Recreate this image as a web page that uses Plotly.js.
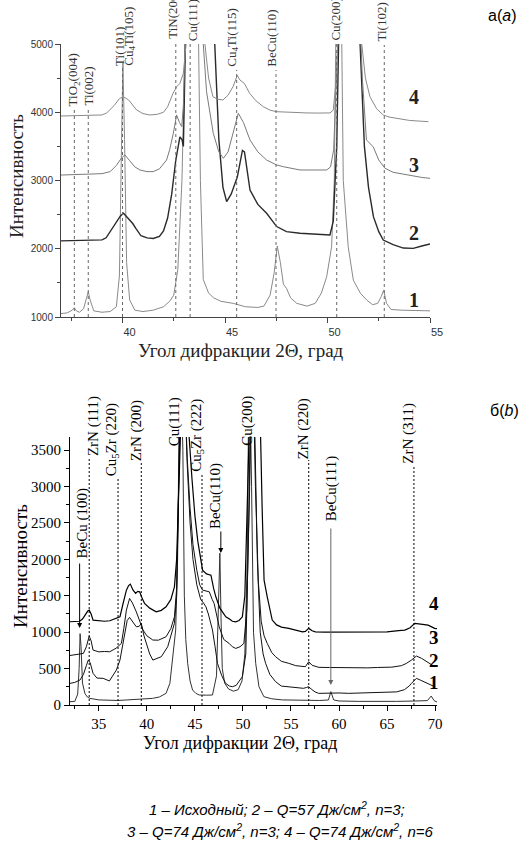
<!DOCTYPE html>
<html><head><meta charset="utf-8">
<script src="https://cdn.plot.ly/plotly-3.0.1.min.js"></script>
<style>html,body{margin:0;padding:0;background:#fff}#c{width:524px;height:843px}</style>
</head><body><div id="c"></div>
<script>
// ---------- Panel a data (2θ, intensity) ----------
const a1x=[37.0,37.3,37.55,37.65,37.75,37.9,38.1,38.25,38.33,38.42,38.6,39.0,39.4,39.7,39.85,39.95,40.02,40.1,40.2,40.35,40.6,41.0,41.5,42.0,42.3,42.5,42.7,42.9,43.05,43.4,43.7,43.8,43.94,44.2,44.45,44.8,45.4,46.0,46.6,46.9,47.2,47.4,47.55,47.7,47.85,48.0,48.2,48.5,49.0,49.4,49.7,49.96,50.2,50.33,50.55,50.77,51.01,51.26,51.6,51.91,52.2,52.45,52.62,52.74,52.88,53.1,53.6,54.2,55.0];
const a1y=[1050,1060,1100,1135,1090,1070,1120,1280,1370,1250,1090,1070,1080,1150,1600,3500,4720,3600,1800,1250,1100,1080,1100,1150,1230,1320,1700,3000,5000,12000,5500,3000,1550,1350,1280,1230,1200,1150,1140,1160,1320,1650,2040,1800,1480,1420,1280,1200,1160,1200,1350,1590,2030,3000,9000,3000,2030,1540,1350,1250,1180,1200,1300,1390,1200,1110,1100,1100,1090];
const a2x=[37.0,37.5,38.0,38.5,39.0,39.2,39.45,39.7,39.9,40.05,40.3,40.5,40.65,40.9,41.2,41.5,41.8,42.0,42.2,42.4,42.6,42.8,42.9,42.97,43.1,43.3,43.8,44.3,44.5,44.7,44.9,45.08,45.3,45.6,45.85,45.95,46.22,46.6,47.03,47.52,48.0,48.66,49.5,50.12,50.28,50.45,50.6,51.0,51.4,51.59,51.8,52.0,52.24,52.5,52.72,53.2,53.7,54.18,54.6,55.0];
const a2y=[2115,2120,2125,2130,2130,2160,2280,2400,2480,2520,2440,2370,2300,2190,2160,2150,2180,2260,2450,2800,3300,3640,3600,3500,5500,9000,12000,8000,5000,3600,2900,2690,2800,3050,3440,3420,2860,2650,2520,2325,2250,2227,2210,2201,2400,3500,6000,10000,8000,5000,3500,2900,2470,2250,2128,2060,2010,2006,2040,2070];
const a3x=[37.0,37.5,38.0,38.5,39.0,39.4,39.7,39.95,40.12,40.35,40.6,40.85,41.2,41.5,41.8,42.15,42.3,42.48,42.58,42.64,42.78,42.89,42.97,43.15,43.5,43.85,43.94,44.1,44.43,44.7,44.92,45.15,45.4,45.55,45.65,45.9,46.22,46.6,47.03,47.5,47.85,48.66,49.3,49.96,50.15,50.3,50.5,51.0,51.5,51.7,51.9,52.23,52.5,52.8,53.2,53.7,54.2,54.6,55.0];
const a3y=[3080,3085,3090,3095,3100,3130,3220,3330,3374,3290,3200,3154,3130,3130,3170,3300,3450,3692,3900,3960,3850,3790,4100,5500,10000,6000,5000,4300,3690,3420,3325,3420,3700,3900,3985,3850,3593,3420,3300,3230,3202,3154,3150,3154,3200,3450,5000,9000,6000,4500,3593,3495,3300,3180,3120,3090,3060,3045,3032];
const a4x=[37.0,37.5,38.0,38.5,39.0,39.23,39.6,39.85,40.04,40.3,40.69,41.0,41.34,41.7,42.0,42.2,42.47,42.66,42.8,42.97,43.1,43.3,43.7,44.02,44.2,44.41,44.65,44.9,45.15,45.4,45.6,45.73,45.95,46.2,46.5,46.87,47.2,47.52,48.0,48.5,49.0,49.5,50.12,50.28,50.4,50.5,50.6,51.0,51.5,51.67,51.85,52.07,52.4,52.72,53.0,53.5,54.0,54.5,54.92];
const a4y=[3945,3950,3950,3955,3960,3990,4100,4200,4228,4180,4033,3980,3960,3970,4000,4080,4280,4380,4423,4570,5000,8000,12000,5000,4500,4228,4190,4180,4250,4380,4540,4472,4420,4278,4170,4081,4030,4008,4000,3995,3990,3988,3990,4030,4400,5000,7000,12000,7000,5000,4500,4228,4050,3960,3930,3900,3880,3870,3862];

// ---------- Panel b data ----------
const b1x=[32.0,32.5,32.8,32.95,33.05,33.15,33.3,33.55,33.8,34.07,35,36,37,37.87,39,40.6,41.3,42.0,42.4,42.7,43.0,43.2,43.45,43.75,43.9,44.05,44.25,44.5,44.76,45.1,45.46,46.2,46.83,47.25,47.45,47.6,47.72,47.85,48.1,48.5,49.0,49.5,49.9,50.2,50.45,50.65,50.9,51.1,51.33,51.67,52.18,53,54.1,55,56,57,58,58.9,59.15,59.45,60,62,64,66,68,69.2,69.6,69.9,70.2];
const b1y=[45,50,150,500,980,800,300,160,110,91,70,65,62,69,75,91,110,160,300,709,1029,2000,5000,3500,1500,900,572,330,206,160,137,135,137,400,1500,2085,1200,500,300,220,190,210,330,700,2000,5000,3000,1000,572,251,114,85,70,66,62,60,62,69,183,69,55,50,48,50,55,60,123,60,40];
const b2x=[32.0,32.5,33.04,33.4,33.7,33.9,34.1,34.4,34.8,35.45,36.1,36.83,37.2,37.45,37.7,37.95,38.2,38.5,38.9,39.2,39.42,39.7,39.94,40.3,40.62,41.0,41.5,42.17,42.5,42.87,43.1,43.3,43.6,43.9,44.2,44.5,44.8,45.2,45.6,45.9,46.15,46.4,46.83,47.1,47.35,47.8,48.2,48.6,48.9,49.3,49.7,49.94,50.3,50.6,50.9,51.2,51.5,51.8,52.1,52.36,52.8,53.4,54.0,54.77,55.5,56.3,56.6,56.85,57.1,57.5,57.88,59,60,61,62,63,64,65,66,66.8,67.3,67.54,68.06,68.5,69.0,69.5,69.96];
const b2y=[297,310,343,420,540,617,580,435,370,366,330,480,617,800,960,1160,1203,1150,1074,1080,1121,950,846,700,617,640,663,800,950,1121,1500,3000,5000,4500,3300,2500,2000,1650,1450,1400,1348,1250,1029,800,572,400,297,260,251,270,340,389,700,2500,5000,4000,2000,1000,700,572,420,320,260,251,240,229,240,251,220,180,160,165,165,160,165,160,165,170,180,210,260,297,366,340,310,285,251];
const b3x=[32.0,32.5,33.0,33.4,33.7,34.0,34.2,34.4,35.0,35.6,36.14,36.8,37.35,37.6,37.87,38.2,38.5,38.9,39.25,39.6,40.0,40.62,41.2,42.0,42.5,42.87,43.1,43.3,43.6,43.9,44.2,44.5,44.8,45.2,45.5,45.8,46.2,46.5,46.8,47.0,47.53,48.0,48.56,48.9,49.25,49.7,50.1,50.4,50.7,51.0,51.3,51.6,51.9,52.2,52.53,53.0,53.4,54.0,54.77,55.5,56.5,56.85,57.2,57.9,59,60,61,62,63,64,65,65.5,66.5,67.0,67.54,68.06,68.6,69.2,69.96];
const b3y=[680,686,700,709,800,946,880,754,730,735,731,780,846,1050,1303,1463,1400,1280,1166,1029,950,892,890,937,1050,1211,1600,3000,5000,4500,3400,2700,2200,1850,1650,1577,1560,1554,1450,1395,1074,900,846,800,777,800,846,1300,3000,5000,3000,1700,1150,950,846,720,663,600,572,540,526,594,545,517,515,512,510,515,510,515,517,520,540,570,617,672,640,590,526];
const b4x=[32.0,32.5,33.0,33.3,33.55,33.85,34.0,34.2,34.4,35.0,35.6,36.14,36.8,37.2,37.5,37.87,38.1,38.28,38.55,38.83,39.05,39.25,39.5,39.76,40.3,40.97,41.5,42.0,42.5,42.87,43.1,43.3,43.8,44.1,44.4,44.7,45.0,45.3,45.6,45.8,46.2,46.5,46.67,46.95,47.18,47.6,48.22,48.6,48.9,49.25,49.6,49.94,50.2,50.5,50.9,51.3,51.6,51.84,52.0,52.2,52.53,52.8,53.05,53.5,54.0,54.77,55.5,56.2,56.5,56.85,57.2,57.54,58.5,60,61.5,63.4,65,66.2,66.85,67.4,67.88,68.5,69.27,69.96,70.2];
const b4y=[1143,1145,1150,1180,1234,1290,1303,1250,1166,1160,1150,1157,1190,1211,1380,1577,1640,1660,1580,1532,1560,1554,1470,1395,1330,1280,1300,1348,1450,1623,2000,3000,5000,4500,3680,3100,2600,2250,2000,1852,1800,1790,1783,1600,1486,1330,1211,1180,1150,1143,1160,1211,1500,3000,5000,5000,4200,3680,2700,1714,1486,1300,1166,1100,1070,1052,1030,1005,1010,1052,1020,1005,1000,1000,995,1005,1005,1020,1029,1060,1121,1110,1097,1052,1050];

// ---------- Reference line positions and labels ----------
const aLinePos=[37.65,38.33,40.0,42.6,43.3,45.57,47.49,50.45,52.77];
const aLabels=['TiO<sub>2</sub>(004)','Ti(002)','Ti(101)','Cu<sub>4</sub>Ti(105)','TiN(200)','Cu(111)','Cu<sub>4</sub>Ti(115)','BeCu(110)','Cu(200)','Ti(102)'];
const aLabelPos=[37.63,38.32,39.85,40.33,42.43,43.45,45.35,47.25,50.37,52.61];
const bLinePos=[34.0,37.0,39.42,45.74,56.85,67.8];
const bLabels=['BeCu (100)','ZrN (111)','Cu<sub>5</sub>Zr (220)','ZrN (200)','Cu(111)','Cu<sub>5</sub>Zr (222)','BeCu(110)','Cu(200)','ZrN (220)','BeCu(111)','ZrN (311)'];
const bLabelPos=[33.2,34.4,36.45,38.95,42.9,45.15,47.1,50.5,56.35,59.2,67.2];
const bArrowPos=[33.0,47.7,59.15];
const curveNames=['1','2','3','4'];

// ---------- layout helpers (pixel geometry) ----------
const W=524,H=843;
const PX=x=>x/W, PY=y=>1-y/H;
const aDom={x:[61,430],y:[317,44]}, bDom={x:[70,437],y:[705,437]};
const aLineTop=[110,110,68,42,44,70,70,44,45];
const aLabelBottom=[107,107,67,67,40,42,68,68,42,43];
const bLineTop=[457,477,462,473,460,465];
const bLabelBottom=[560,457,477,462,447,473,530,447,460,522,465];
const bArrowFrom=[562,530,527], bArrowTip=[628,553,685];
const bArrowColor=['#000','#000','#666'];

const SERIF='"Liberation Serif","Times New Roman",serif';
const SANS='"Liberation Sans",Arial,sans-serif';

function line(x,y,ax,color,w){return {x:x,y:y,xaxis:ax[0],yaxis:ax[1],type:'scatter',mode:'lines',line:{color:color,width:w},hoverinfo:'skip'};}
const traces=[
 line(a1x,a1y,['x','y'],'#8a8a8a',1),
 line(a2x,a2y,['x','y'],'#2a2a2a',1.4),
 line(a3x,a3y,['x','y'],'#7a7a7a',1),
 line(a4x,a4y,['x','y'],'#8a8a8a',1),
 line(b1x,b1y,['x2','y2'],'#333',1),
 line(b2x,b2y,['x2','y2'],'#111',1),
 line(b3x,b3y,['x2','y2'],'#111',1),
 line(b4x,b4y,['x2','y2'],'#000',1.2)
];

const shapes=[];
aLinePos.forEach((p,i)=>shapes.push({type:'line',xref:'x',yref:'paper',x0:p,x1:p,y0:PY(aDom.y[0]),y1:PY(aLineTop[i]),line:{color:'#666',width:1,dash:'dot'}}));
bLinePos.forEach((p,i)=>shapes.push({type:'line',xref:'x2',yref:'paper',x0:p,x1:p,y0:PY(bDom.y[0]),y1:PY(bLineTop[i]),line:{color:'#000',width:1,dash:'2px,2px'}}));

const ann=[];
function txt(x,y,t,font,extra){return Object.assign({xref:'paper',yref:'paper',x:PX(x),y:PY(y),text:t,showarrow:false,xanchor:'center',yanchor:'middle',font:font},extra||{});}
aLabels.forEach((t,i)=>ann.push({xref:'x',yref:'paper',x:aLabelPos[i],y:PY(aLabelBottom[i]),text:t,textangle:-90,showarrow:false,xanchor:'center',yanchor:'bottom',font:{family:SERIF,size:13,color:'#333'},borderpad:0}));
bLabels.forEach((t,i)=>ann.push({xref:'x2',yref:'paper',x:bLabelPos[i],y:PY(bLabelBottom[i]),text:t,textangle:-90,showarrow:false,xanchor:'center',yanchor:'bottom',font:{family:SERIF,size:15,color:'#000'},borderpad:0}));
bArrowPos.forEach((p,i)=>ann.push({xref:'x2',yref:'paper',x:p,y:PY(bArrowTip[i]),text:'',showarrow:true,ax:0,ay:-(bArrowTip[i]-bArrowFrom[i]),arrowhead:2,arrowsize:1,arrowwidth:1,arrowcolor:bArrowColor[i],standoff:0}));
// curve numbers
const aNumY=[300,233,165,97], bNumY=[682,660,637,603];
curveNames.forEach((n,i)=>{
  ann.push(txt(414,aNumY[i],'<b>'+n+'</b>',{family:SERIF,size:20,color:'#222'}));
  ann.push(txt(434,bNumY[i],'<b>'+n+'</b>',{family:SERIF,size:19,color:'#000'}));
});
// titles
ann.push(txt(16,176,'Интенсивность',{family:SERIF,size:19,color:'#222'},{textangle:-90}));
ann.push(txt(241,350,'Угол дифракции 2Θ, град',{family:SERIF,size:19,color:'#222'}));
ann.push(txt(20,566,'Интенсивность',{family:SERIF,size:19,color:'#000'},{textangle:-90}));
ann.push(txt(240,743,'Угол дифракции 2Θ, град',{family:SERIF,size:18,color:'#000'}));
ann.push(txt(502,15,'а(<i>a</i>)',{family:SANS,size:16,color:'#000'}));
ann.push(txt(504,410,'б(<i>b</i>)',{family:SANS,size:16,color:'#000'}));
ann.push(txt(277,808,'<i>1 – Исходный; 2 – Q=57 Дж/см<sup>2</sup>, n=3;</i>',{family:SANS,size:15,color:'#000'}));
ann.push(txt(280,830,'<i>3 – Q=74 Дж/см<sup>2</sup>, n=3; 4 – Q=74 Дж/см<sup>2</sup>, n=6</i>',{family:SANS,size:15,color:'#000'}));

const axBase={showgrid:false,zeroline:false,showline:true,ticks:'outside',mirror:false};
const layout={
  width:W,height:H,margin:{l:0,r:0,t:0,b:0},paper_bgcolor:'#fff',plot_bgcolor:'rgba(0,0,0,0)',showlegend:false,
  xaxis:Object.assign({},axBase,{domain:[PX(aDom.x[0]),PX(aDom.x[1])],range:[37,55],anchor:'y',dtick:5,tick0:0,ticklen:5,ticklabelshift:7,linecolor:'#444',tickcolor:'#444',tickfont:{family:SANS,size:11,color:'#333'},minor:{dtick:2.5,ticklen:3,ticks:'outside',tickcolor:'#444'}}),
  yaxis:Object.assign({},axBase,{domain:[PY(aDom.y[0]),PY(aDom.y[1])],range:[1000,5000],anchor:'x',dtick:1000,ticklen:5,linecolor:'#444',tickcolor:'#444',tickfont:{family:SANS,size:10,color:'#333'},minor:{dtick:500,ticklen:3,ticks:'outside',tickcolor:'#444'}}),
  xaxis2:Object.assign({},axBase,{domain:[PX(bDom.x[0]),PX(bDom.x[1])],range:[32,70.2],anchor:'y2',dtick:5,tick0:0,ticklen:5,linecolor:'#000',tickcolor:'#000',tickfont:{family:SERIF,size:15,color:'#000'},minor:{dtick:2.5,ticklen:3,ticks:'outside',tickcolor:'#000'}}),
  yaxis2:Object.assign({},axBase,{domain:[PY(bDom.y[0]),PY(bDom.y[1])],range:[0,3680],anchor:'x2',dtick:500,ticklen:5,linecolor:'#000',tickcolor:'#000',tickfont:{family:SERIF,size:15,color:'#000'},minor:{dtick:250,ticklen:3,ticks:'outside',tickcolor:'#000'}}),
  shapes:shapes,annotations:ann
};
Plotly.newPlot('c',traces,layout,{staticPlot:true,displayModeBar:false});
</script></body></html>
